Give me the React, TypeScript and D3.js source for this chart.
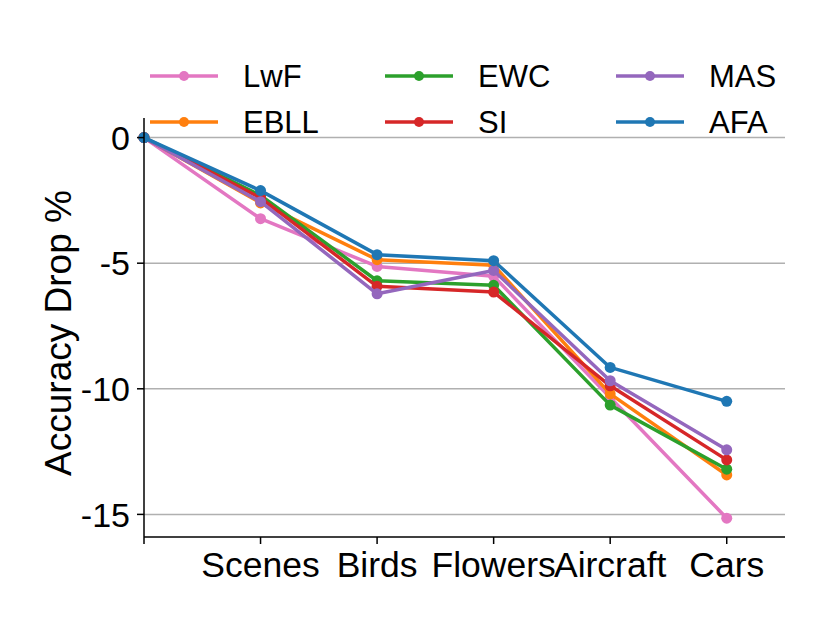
import * as d3 from "d3"

// categories along the x axis (index 0 is the unlabeled origin)
const categories = ["", "Scenes", "Birds", "Flowers", "Aircraft", "Cars"]

// accuracy drop values per method
const lwf = [0, -3.23, -5.13, -5.52, -10.35, -15.15]
const ebll = [0, -2.6, -4.86, -5.08, -10.2, -13.43]
const ewc = [0, -2.3, -5.7, -5.88, -10.65, -13.2]
const si = [0, -2.4, -5.92, -6.15, -9.88, -12.83]
const mas = [0, -2.55, -6.22, -5.29, -9.68, -12.43]
const afa = [0, -2.11, -4.66, -4.9, -9.15, -10.5]

const yTicks = [0, -5, -10, -15]

const series = [
  { name: "LwF", values: lwf, color: "#e377c2" },
  { name: "EBLL", values: ebll, color: "#ff7f0e" },
  { name: "EWC", values: ewc, color: "#2ca02c" },
  { name: "SI", values: si, color: "#d62728" },
  { name: "MAS", values: mas, color: "#9467bd" },
  { name: "AFA", values: afa, color: "#1f77b4" },
]

const W = 830
const H = 623
const font = "'Liberation Sans', Arial, Helvetica, sans-serif"

export default function App() {
  const x = d3.scaleLinear().domain([0, 5.5]).range([144, 785])
  const y = d3.scaleLinear().domain([-15.9, 0.78]).range([537, 118])

  const line = d3
    .line<number>()
    .x((_, i) => x(i))
    .y((d) => y(d))

  // legend: 3 columns, filled column-first
  const legendCols = [150, 385, 616]
  const legendRows = [76, 122]

  return (
    <svg
      width={W}
      height={H}
      style={{ position: "absolute", left: 0, top: 0, background: "#fff" }}
      fontFamily={font}
    >
      {/* grid lines */}
      {yTicks.map((t) => (
        <line key={"g" + t} x1={x(0)} x2={x(5.5)} y1={y(t)} y2={y(t)} stroke="#b0b0b0" strokeWidth={1.5} />
      ))}

      {/* series */}
      {series.map((s) => (
        <g key={s.name}>
          <path d={line(s.values) || ""} fill="none" stroke={s.color} strokeWidth={3.5} strokeLinejoin="round" />
          {s.values.map((v, i) => (
            <circle key={i} cx={x(i)} cy={y(v)} r={5.5} fill={s.color} />
          ))}
        </g>
      ))}

      {/* axes spines */}
      <line x1={x(0)} x2={x(0)} y1={118} y2={537} stroke="#000" strokeWidth={1.5} />
      <line x1={x(0)} x2={x(5.5)} y1={537} y2={537} stroke="#000" strokeWidth={1.5} />

      {/* y ticks */}
      {yTicks.map((t) => (
        <g key={"y" + t}>
          <line x1={x(0) - 7} x2={x(0)} y1={y(t)} y2={y(t)} stroke="#000" strokeWidth={1.5} />
          <text x={130} y={y(t)} dy="0.36em" textAnchor="end" fontSize={34}>
            {String(t)}
          </text>
        </g>
      ))}

      {/* x ticks */}
      {categories.map((c, i) => (
        <g key={"x" + i}>
          <line x1={x(i)} x2={x(i)} y1={537} y2={544} stroke="#000" strokeWidth={1.5} />
          <text x={x(i)} y={577} textAnchor="middle" fontSize={35.5}>
            {c}
          </text>
        </g>
      ))}

      {/* y label */}
      <text transform={`translate(71,333) rotate(-90)`} textAnchor="middle" fontSize={37}>
        Accuracy Drop %
      </text>

      {/* legend */}
      {series.map((s, i) => {
        const lx = legendCols[Math.floor(i / 2)]
        const ly = legendRows[i % 2]
        return (
          <g key={"l" + s.name}>
            <line x1={lx} x2={lx + 68} y1={ly} y2={ly} stroke={s.color} strokeWidth={3.5} />
            <circle cx={lx + 34} cy={ly} r={5} fill={s.color} />
            <text x={lx + 93} y={ly} dy="0.36em" fontSize={31}>
              {s.name}
            </text>
          </g>
        )
      })}
    </svg>
  )
}
